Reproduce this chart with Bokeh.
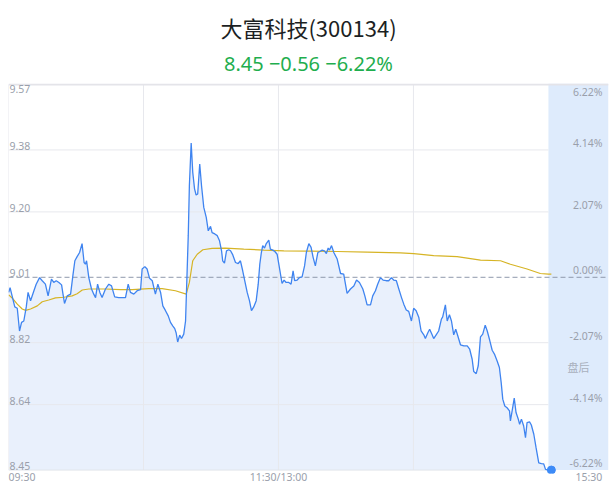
from bokeh.plotting import figure
from bokeh.models import Range1d, LinearAxis, FixedTicker, Title, BoxAnnotation
from bokeh.core.properties import value
from bokeh.embed import file_html
from bokeh.resources import INLINE

# ---------------- data ----------------
name = "大富科技(300134)"
quote = "8.45 −0.56 −6.22%"
prev_close = 9.01
session_end = 240.0          # minutes of continuous trading (09:30-11:30, 13:00-15:00)
post_end = 266.7             # end of after-hours panel (15:30)

price_ticks = [9.57, 9.38, 9.20, 9.01, 8.82, 8.64, 8.45]
price_labels = ["9.57", "9.38", "9.20", "9.01", "8.82", "8.64", "8.45"]
pct_labels = ["6.22%", "4.14%", "2.07%", "0.00%", "-2.07%", "-4.14%", "-6.22%"]
grid_prices = [9.38, 9.20, 8.82, 8.64]
grid_minutes = [0, 60, 120, 180]

time_ticks = [6, 120, 258]
time_labels = ["09:30", "11:30/13:00", "15:30"]

minutes = [
    0.1, 0.7, 1.6, 2.8, 3.9, 4.9, 5.8, 6.8, 7.9, 8.7, 9.8, 11.3, 12.3, 13.8, 15.0, 16.4, 17.6, 19.1, 20.1, 21.2,
    22.4, 23.6, 24.1, 24.9, 26.1, 27.6, 28.7, 29.5, 30.5, 31.6, 32.7, 33.6, 34.2, 34.7, 35.7, 36.9, 37.9, 38.7, 39.6, 40.6,
    41.6, 43.1, 44.6, 45.8, 47.2, 49.0,
    52.0, 53.2, 54.2, 55.7, 57.2, 58.7, 59.4, 60.6, 61.6, 62.7, 63.9, 65.3, 66.4, 67.6, 68.6, 69.8, 71.0, 72.0, 73.0, 73.9,
    74.5, 75.2, 76.1, 76.9, 77.9, 78.7, 79.1, 79.9, 80.4, 81.2, 81.9, 82.7, 83.4, 84.1, 85.0, 85.8, 86.8, 87.9, 88.8, 89.8,
    90.5, 91.7, 92.8, 93.8, 94.7, 95.2, 96.0, 96.9, 97.9,
    98.7, 99.7, 100.9, 102.1, 103.1, 104.1, 105.0, 106.1, 107.1, 108.0, 109.0, 110.1, 111.0, 111.7, 112.4, 113.0, 113.8, 114.5, 115.7, 116.4,
    117.5, 118.4, 119.4, 120.4, 121.6, 122.5, 123.4, 124.6, 125.6, 126.5, 127.2, 128.3, 129.3, 130.5, 131.6, 132.4, 133.5, 134.5, 135.4, 136.4,
    137.5, 138.4, 139.4, 140.4, 141.3, 142.1, 142.7, 143.6, 144.6, 146.1,
    147.6, 149.0, 150.5, 152.0, 153.5, 154.7, 156.0, 157.5, 158.4, 159.4, 160.9, 161.9, 163.1, 164.1, 165.3, 166.5, 167.9, 169.0, 170.2, 171.2,
    172.4, 173.5, 174.7, 175.7, 176.8, 177.9, 179.1, 180.1, 181.2, 182.4, 183.4, 184.6, 185.3, 186.4, 187.2, 188.3, 189.0, 190.1, 191.2, 192.4,
    193.0,
    194.2, 195.0, 196.0, 196.9, 197.9, 198.8, 199.7, 200.9, 202.4, 203.9, 205.0, 206.1, 206.8, 207.9, 208.8, 209.8, 210.8, 211.9, 212.8, 213.9,
    215.0, 216.0, 217.2, 218.2, 219.0, 219.7, 220.6, 221.6, 222.7, 223.1, 224.0, 224.8, 225.6, 226.5, 227.2, 228.0, 229.0, 229.8, 230.5, 231.6,
    232.4, 233.5, 234.5, 235.7, 236.9, 237.9, 238.7, 240.0,
]
price = [
    8.966, 8.980, 8.956, 8.924, 8.920, 8.854, 8.879, 8.883, 8.924, 8.966, 8.942, 8.971, 8.990, 9.009, 9.000, 8.990, 8.956, 9.005, 8.995, 9.000,
    8.995, 8.988, 8.966, 8.934, 8.956, 8.961, 9.019, 9.058, 9.070, 9.082, 9.108, 9.053, 9.048, 9.058, 9.009, 8.976, 8.961, 8.951, 8.990, 8.966,
    8.951, 8.976, 8.990, 8.985, 8.953, 8.951,
    8.951, 8.990, 8.966, 8.961, 8.971, 8.974, 9.034, 9.041, 9.034, 9.007, 9.000, 8.961, 8.990, 8.966, 8.927, 8.913, 8.898, 8.879, 8.869, 8.861,
    8.849, 8.822, 8.842, 8.832, 8.845, 8.883, 8.966, 9.131, 9.276, 9.400, 9.315, 9.267, 9.249, 9.252, 9.339, 9.276, 9.213, 9.184, 9.145, 9.158,
    9.140, 9.136, 9.131, 9.116, 9.087, 9.058, 9.051, 9.087, 9.090,
    9.087, 9.075, 9.053, 9.050, 9.058, 9.029, 9.000, 8.966, 8.942, 8.913, 8.924, 8.942, 8.990, 9.048, 9.082, 9.102, 9.095, 9.107, 9.118, 9.092,
    9.089, 9.085, 9.077, 9.039, 8.992, 9.002, 8.995, 8.995, 8.990, 9.029, 9.000, 9.002, 9.009, 9.011, 9.043, 9.082, 9.108, 9.097, 9.068, 9.043,
    9.082, 9.085, 9.089, 9.087, 9.079, 9.095, 9.089, 9.102, 9.082, 9.063,
    9.021, 9.019, 8.963, 8.976, 8.985, 9.002, 8.995, 8.976, 8.956, 8.930, 8.930, 8.956, 8.971, 8.990, 9.009, 9.002, 9.000, 9.000, 9.009, 9.002,
    9.000, 8.976, 8.951, 8.932, 8.915, 8.911, 8.883, 8.920, 8.913, 8.893, 8.854, 8.843, 8.832, 8.849, 8.859, 8.843, 8.832, 8.843, 8.854, 8.888,
    8.895,
    8.930, 8.883, 8.901, 8.883, 8.843, 8.859, 8.840, 8.814, 8.811, 8.811, 8.801, 8.772, 8.736, 8.730, 8.753, 8.837, 8.845, 8.871, 8.854, 8.827,
    8.798, 8.787, 8.767, 8.748, 8.704, 8.656, 8.636, 8.631, 8.622, 8.593, 8.627, 8.659, 8.617, 8.600, 8.583, 8.598, 8.578, 8.544, 8.588, 8.590,
    8.581, 8.554, 8.515, 8.471, 8.469, 8.468, 8.452, 8.450,
]
avg_minutes = [0.1, 1.6, 3.9, 6.1, 7.6, 9.8, 12.8, 15.0, 17.9, 20.9, 24.6, 28.3, 30.5, 32.8, 35.7, 43.1, 49.8, 55.0, 62.4, 68.3,
               74.2, 79.0, 80.4, 81.9, 83.9, 86.4, 90.5, 96.4, 104.6, 113.5, 122.4, 134.2, 146.1, 159.4, 174.2, 180.1, 189.0, 199.4,
               209.8, 218.7, 223.1, 230.5, 236.4, 240.0, 241.3]
avg_price = [8.959, 8.950, 8.932, 8.918, 8.914, 8.918, 8.927, 8.939, 8.944, 8.950, 8.952, 8.956, 8.962, 8.973, 8.976, 8.976, 8.974,
             8.974, 8.977, 8.977, 8.971, 8.961, 8.995, 9.058, 9.077, 9.090, 9.094, 9.095, 9.092, 9.089, 9.087, 9.086, 9.085, 9.083,
             9.081, 9.079, 9.073, 9.070, 9.060, 9.058, 9.048, 9.034, 9.021, 9.019, 9.019]
post_minutes = [241.3]
post_price = [8.45]
post_label = "盘后"
post_label_price = 8.75

# ---------------- style ----------------
GREEN = "#1fae4e"
BLUE = "#3f84f0"
AVG = "#d6b425"
GRID = "#e7e8ed"
LABEL = "#9a9fab"
NUM_FONT = value("Noto Sans")
CJK_FONT = "Noto Sans CJK SC"

lo = price_ticks[-1] - 0.01
hi = price_ticks[0] + 0.003

p = figure(frame_width=600, frame_height=390,
           x_range=Range1d(0, post_end), y_range=Range1d(lo, hi),
           x_axis_type=None, y_axis_type=None,
           toolbar_location=None, output_backend="svg",
           min_border_left=8, min_border_right=3, min_border_top=83, min_border_bottom=0,
           title=name)
p.outline_line_color = None
p.background_fill_color = "white"
p.border_fill_color = "white"

p.title.align = "center"
p.title.text_font = CJK_FONT
p.title.text_font_size = "22px"
p.title.text_font_style = "normal"
p.title.text_color = "#1c1f23"
p.title.standoff = -4

sub_title = Title(text=quote, align="center", text_font="Noto Sans", text_font_size="20px",
                  text_font_style="normal", text_color=GREEN, standoff=14)
p.add_layout(sub_title, "above")

# after-hours panel
p.add_layout(BoxAnnotation(left=session_end, bottom=price_ticks[-1], fill_color="#deebfc", fill_alpha=1.0,
                           line_alpha=0, level="underlay"))

all_minutes = minutes + post_minutes
all_price = price + post_price

# area under price
p.varea(x=all_minutes, y1=price_ticks[-1], y2=all_price, fill_color="#e9f0fc", fill_alpha=1.0)

# grid lines (drawn over area)
p.segment(x0=0, x1=session_end, y0=grid_prices, y1=grid_prices, line_color=GRID, line_width=1)
p.segment(x0=grid_minutes, x1=grid_minutes, y0=price_ticks[-1], y1=price_ticks[0], line_color=GRID, line_width=1)
p.segment(x0=0, x1=session_end, y0=price_ticks[-1], y1=price_ticks[-1], line_color="#e1e4ea", line_width=1)
p.segment(x0=0, x1=post_end, y0=price_ticks[0], y1=price_ticks[0], line_color="#e4e4e9", line_width=2)

# previous close dashed line
p.segment(x0=0, x1=post_end, y0=prev_close, y1=prev_close, line_color="#8e98ab", line_width=1, line_dash="5 3")

# average & price
p.line(avg_minutes, avg_price, line_color=AVG, line_width=1.2)
p.line(all_minutes, all_price, line_color=BLUE, line_width=1.3)
p.scatter(post_minutes, post_price, size=8, fill_color="#3d8bf7", line_color="#3d8bf7")

# y labels (left prices, right percentages)
p.text(x=[0], y=price_ticks[:1], text=price_labels[:1], x_offset=1, text_baseline="top",
       text_font=NUM_FONT, text_font_size="10.5px", text_color=LABEL)
p.text(x=[0] * 6, y=price_ticks[1:], text=price_labels[1:], x_offset=1, text_baseline="bottom",
       text_font=NUM_FONT, text_font_size="10.5px", text_color=LABEL)
p.text(x=[post_end], y=price_ticks[:1], text=pct_labels[:1], x_offset=-6, text_align="right",
       text_baseline="top", text_font=NUM_FONT, text_font_size="10.5px", text_color=LABEL)
p.text(x=[post_end] * 6, y=price_ticks[1:], text=pct_labels[1:], x_offset=-6, text_align="right",
       text_baseline="bottom", text_font=NUM_FONT, text_font_size="10.5px", text_color=LABEL)
p.text(x=[(session_end + post_end) / 2], y=[post_label_price], text=[post_label], text_align="center",
       text_baseline="middle", text_font=value(CJK_FONT), text_font_size="11px", text_color="#a9b0bc")

# time axis
xaxis = LinearAxis(ticker=FixedTicker(ticks=time_ticks),
                   major_label_overrides={k: v for k, v in zip(time_ticks, time_labels)})
xaxis.axis_line_color = None
xaxis.major_tick_line_color = None
xaxis.minor_tick_line_color = None
xaxis.major_tick_out = 0
xaxis.major_tick_in = 0
xaxis.minor_tick_out = 0
xaxis.minor_tick_in = 0
xaxis.major_label_standoff = -4
xaxis.major_label_text_font = "Noto Sans"
xaxis.major_label_text_font_size = "10.5px"
xaxis.major_label_text_color = LABEL
p.add_layout(xaxis, "below")

open("out.html", "w").write(file_html(p, INLINE))
